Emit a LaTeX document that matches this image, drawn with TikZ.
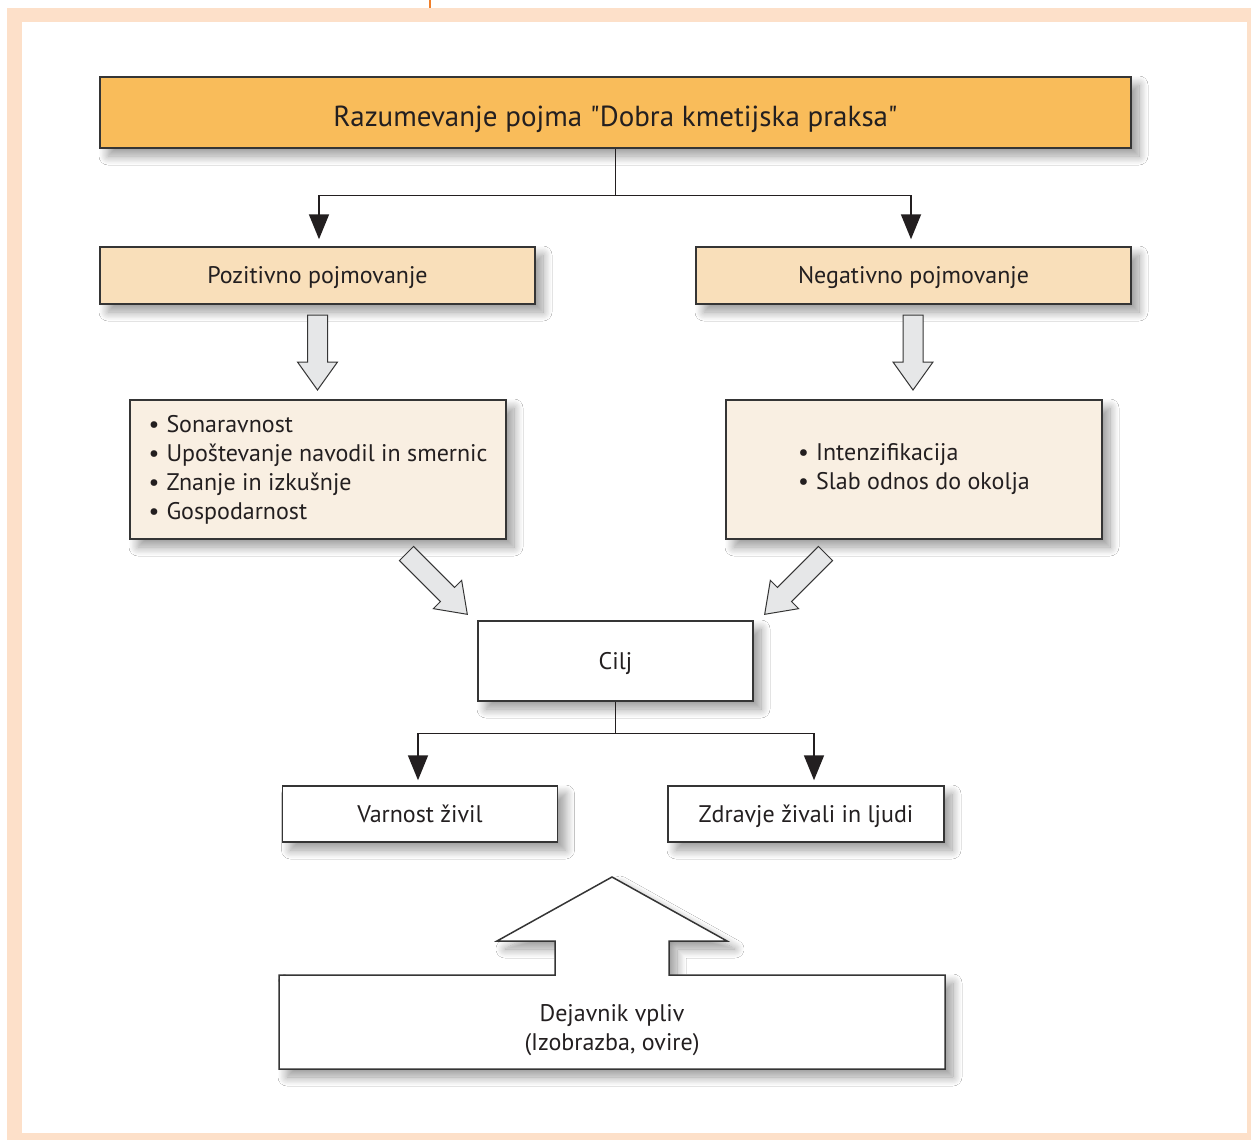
\documentclass[tikz,border=0pt]{standalone}
\usepackage{fontspec}
\setmainfont{PT Sans}[Ligatures=TeXOff]
\usetikzlibrary{arrows.meta,shadows.blur}
\definecolor{titlefill}{HTML}{F9BC5A}
\definecolor{labfill}{HTML}{F9DFBA}
\definecolor{listfill}{HTML}{F9EFE2}
\definecolor{peach}{HTML}{FDE0C9}
\definecolor{tick}{HTML}{F07F2A}
\definecolor{arrfill}{HTML}{E6E7E8}
\definecolor{edge}{HTML}{353535}
\definecolor{ink}{HTML}{231F20}
\newcommand\bul{\makebox[18pt][l]{•}}
\newcommand\blockarrow[3]{%
  \begin{scope}[shift={(#1)},rotate=#2]
    \filldraw[barrow] (-10,0) -- (10,0) -- (10,#3-28) -- (20,#3-28) -- (0,#3)
      -- (-20,#3-28) -- (-10,#3-28) -- cycle;
  \end{scope}}
\tikzset{
  shad/.style={blur shadow={shadow xshift=8pt,shadow yshift=-8pt,shadow blur radius=9pt,shadow blur steps=16,shadow opacity=40}},
  box/.style={draw=edge,line width=1.5pt,shad,text=ink,inner sep=0pt,font=\fontsize{24}{29}\selectfont},
  lab/.style={text height=18pt,text depth=2pt},
  barrow/.style={fill=arrfill,draw=edge,line width=1pt},
  conn/.style={draw=ink,line width=1.8pt},
  tip/.style={-{Triangle[length=25pt,width=20pt]}}
}
\begin{document}
\begin{tikzpicture}[x=1pt,y=-1pt]
\useasboundingbox (0,0) rectangle (1251,1140);
% frame
\fill[peach] (7,8) rectangle (1260,1150);
\fill[white] (22,22) rectangle (1247,1133);
\draw[tick,line width=2.5pt] (430,0) -- (430,8);
% nodes
\node[box,fill=titlefill,line width=2pt,minimum width=1031pt,minimum height=71pt,text height=28pt,text depth=1pt,font=\fontsize{29}{32}\selectfont] (title) at (615.5,112.5) {Razumevanje pojma "Dobra kmetijska praksa"};
\node[box,lab,fill=labfill,minimum width=435pt,minimum height=57pt] (pos) at (317.5,275.5) {Pozitivno pojmovanje};
\node[box,lab,fill=labfill,minimum width=435pt,minimum height=57pt] (neg) at (913.5,275.5) {Negativno pojmovanje};
\node[box,fill=listfill,minimum width=376pt,minimum height=139pt,align=left] (plist) at (318,469.5) {\bul Sonaravnost\\\bul Upoštevanje navodil in smernic\\\bul Znanje in izkušnje\\\bul Gospodarnost};
\node[box,fill=listfill,minimum width=376pt,minimum height=139pt,align=left] (nlist) at (914,469.5) {\bul Intenzifikacija\\\bul Slab odnos do okolja};
\node[box,lab,fill=white,minimum width=275pt,minimum height=80pt] (cilj) at (615.5,661) {Cilj};
\node[box,lab,fill=white,minimum width=275pt,minimum height=56pt] (varn) at (420,814) {Varnost živil};
\node[box,lab,fill=white,minimum width=276pt,minimum height=56pt] (zdr) at (806,814) {Zdravje živali in ljudi};
% connectors
\coordinate (j1) at (615.5,195.5);
\coordinate (j2) at (615.5,733.5);
\draw[conn] (title.south) -- (j1);
\draw[conn,tip,shorten >=7pt] (j1) -| ([xshift=1.5pt]pos.north);
\draw[conn,tip,shorten >=7pt] (j1) -| ([xshift=-2.5pt]neg.north);
\draw[conn] (cilj.south) -- (j2);
\draw[conn,tip,shorten >=5pt] (j2) -| ([xshift=-2pt]varn.north);
\draw[conn,tip,shorten >=5pt] (j2) -| ([xshift=8pt]zdr.north);
% block arrows
\blockarrow{317.5,315}{0}{75}
\blockarrow{913,315}{0}{75}
\blockarrow{406.5,553.5}{45}{86}
\blockarrow{825.5,553.5}{-45}{86}
% big arrow
\filldraw[fill=white,draw=edge,line width=1.5pt,shad] (279,975) -- (555,975) -- (555,941) -- (497,941) -- (612,877) -- (727,941) -- (669,941) -- (669,975) -- (945,975) -- (945,1069) -- (279,1069) -- cycle;
\node[text=ink,align=center,font=\fontsize{24}{29}\selectfont] (dej) at (612,1030.5) {Dejavnik vpliv\\(Izobrazba, ovire)};
\end{tikzpicture}
\end{document}
